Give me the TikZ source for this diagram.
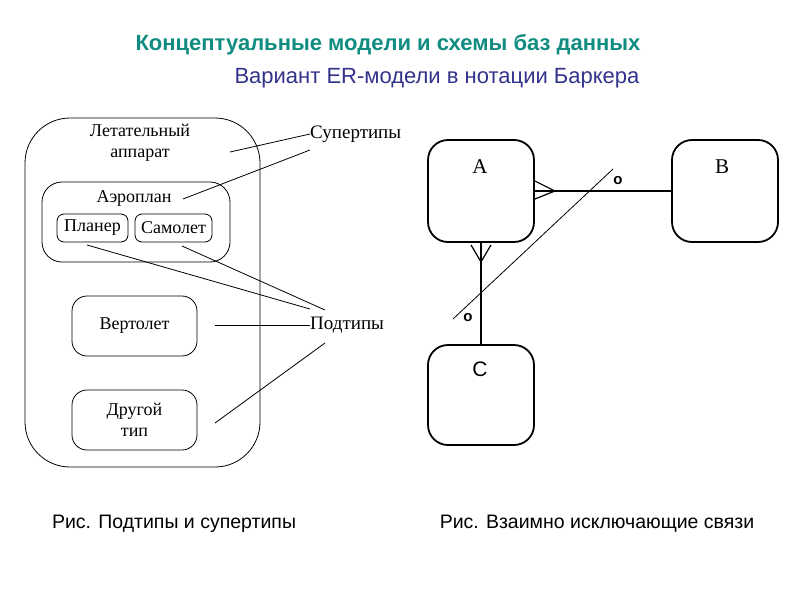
\documentclass[tikz,border=0pt]{standalone}
\usepackage{fontspec}
\setmainfont{Liberation Serif}
\newfontfamily\arialf{Liberation Sans}
\usetikzlibrary{calc}
\definecolor{titleteal}{RGB}{16,140,128}
\definecolor{subblue}{RGB}{51,51,140}
\tikzset{
  lbox/.style={draw, line width=0.8pt, inner sep=0pt},
  ltext/.style={font=\fontsize{18}{21}\selectfont, inner sep=0pt},
  rbox/.style={draw, line width=1.8pt, rounded corners=20pt, minimum width=106pt, minimum height=102pt, inner sep=0pt},
  rtext/.style={font=\fontsize{21}{24}\selectfont, inner sep=0pt},
  thin line/.style={line width=0.8pt},
  captext/.style={font=\arialf\fontsize{19.5}{22}\selectfont, inner sep=0pt},
  otext/.style={font=\arialf\bfseries\fontsize{15}{17}\selectfont, inner sep=0pt}
}
\begin{document}
\begin{tikzpicture}[x=1pt,y=-1pt]
\useasboundingbox[fill=white] (0,0) rectangle (800,600);
% titles
\node[font=\arialf\bfseries\fontsize{22}{25}\selectfont, text=titleteal, inner sep=0pt] (title) at (388,45) {Концептуальные модели и схемы баз данных};
\node[font=\arialf\fontsize{22}{25}\selectfont, text=subblue, inner sep=0pt] (subtitle) at (437,78) {Вариант ER-модели в нотации Баркера};

% left diagram
\node[lbox, rounded corners=45pt, minimum width=235pt, minimum height=349pt] (lap) at (142.5,292.5) {};
\node[ltext, align=center] (laptext) at (140,143) {Летательный\\аппарат};
\node[lbox, rounded corners=20pt, minimum width=188pt, minimum height=80pt] (aero) at (136,222) {};
\node[ltext] (aerotext) at (134,198) {Аэроплан};
\node[lbox, rounded corners=7pt, minimum width=71pt, minimum height=28pt, ltext] (planer) at (92.5,228) {Планер};
\node[lbox, rounded corners=7pt, minimum width=77pt, minimum height=28pt, ltext] (samolet) at (173.5,228) {Самолет};
\node[lbox, rounded corners=15pt, minimum width=125pt, minimum height=60pt, ltext] (vert) at (134.5,326) {Вертолет};
\node[lbox, rounded corners=15pt, minimum width=125pt, minimum height=60pt, ltext, align=center] (drug) at (134.5,420) {Другой\\тип};

\node[ltext, anchor=west, font=\fontsize{19}{22}\selectfont] (sup) at (310,134) {Супертипы};
\node[ltext, anchor=west, font=\fontsize{19}{22}\selectfont] (pod) at (310,325) {Подтипы};

\coordinate (c1) at (230,152);
\coordinate (c2) at (183,199);
\coordinate (c3) at (87,245);
\coordinate (c4) at (182,246);
\coordinate (c5) at (215,325);
\coordinate (c6) at (215,423);
\draw[thin line] (c1) -- (sup.west);
\draw[thin line] (c2) -- ($(sup.west)+(0,16)$);
\draw[thin line] (c3) -- ($(pod.west)+(0,-16)$);
\draw[thin line] (c4) -- ($(pod.west)+(15,-15)$);
\draw[thin line] (c5) -- (pod.west);
\draw[thin line] (c6) -- ($(pod.west)+(15,18)$);

% right diagram
\node[rbox] (A) at (481,191) {};
\node[rtext] (Atext) at (480,167) {A};
\node[rbox] (B) at (725,191) {};
\node[rtext] (Btext) at (722,167) {B};
\node[rbox, minimum height=100pt] (C) at (481,395) {};
\node[rtext, font=\arialf\fontsize{21}{24}\selectfont] (Ctext) at (480,369) {C};

\draw[line width=1.8pt] (A.east) -- (B.west);
\draw[line width=1.2pt] ($(A.east)+(0,-10)$) -- ($(A.east)+(20,0)$) -- ($(A.east)+(0,8)$);
\draw[line width=1.5pt] (A.south) -- (C.north);
\draw[line width=1.2pt] ($(A.south)+(-10,2)$) -- ($(A.south)+(0,19)$) -- ($(A.south)+(10,2)$);

\coordinate (d1) at (453,319);
\coordinate (d2) at (613,169);
\draw[thin line] (d1) -- (d2);
\node[otext] (o1) at (618,181) {o};
\node[otext] (o2) at (468,318) {o};

% captions
\node[captext] (cap1) at (174,524) {Рис. Подтипы и супертипы};
\node[captext] (cap2) at (597,524) {Рис. Взаимно исключающие связи};
\end{tikzpicture}
\end{document}
